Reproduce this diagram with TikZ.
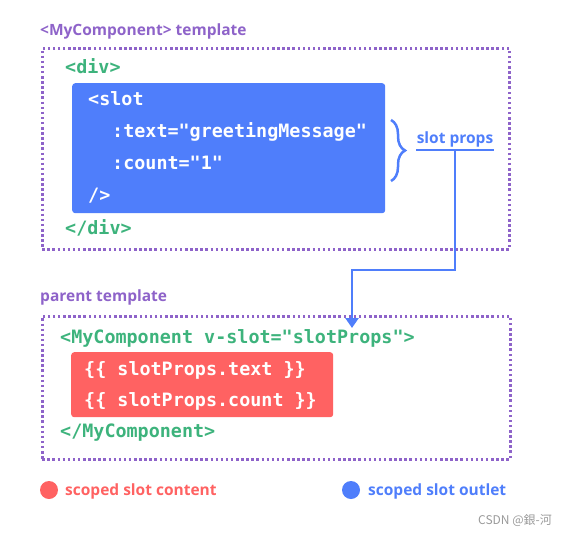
\documentclass[tikz,border=0pt]{standalone}
\usepackage{fontspec}
\setsansfont{Open Sans}
\setmonofont{DejaVu Sans Mono}
\newfontfamily\cjkfont{Noto Sans CJK SC}
\usetikzlibrary{decorations.pathreplacing,arrows.meta}

\definecolor{vuepurple}{HTML}{8E63C9}
\definecolor{vuegreen}{HTML}{3DB37C}
\definecolor{outletblue}{HTML}{4F7EFB}
\definecolor{contentred}{HTML}{FF6262}
\definecolor{markgray}{HTML}{9A9A9A}

\tikzset{
  title/.style={anchor=base west, inner sep=0pt, text=vuepurple, font=\sffamily\bfseries\fontsize{15.5bp}{18bp}\selectfont},
  frame/.style={draw=vuepurple, line width=2.5bp, dash pattern=on 2.5bp off 2.6bp, anchor=north west, inner sep=0pt},
  fillbox/.style={anchor=north west, inner sep=0pt, rounded corners=3bp},
  code/.style={anchor=base west, inner sep=0pt, text=vuegreen, font=\ttfamily\bfseries\fontsize{18.4bp}{20bp}\selectfont},
  whitecode/.style={code, text=white},
  legend/.style={anchor=base west, inner sep=0pt, font=\sffamily\bfseries\fontsize{15.5bp}{18bp}\selectfont},
  dot/.style={circle, inner sep=0pt, minimum size=18bp},
  link/.style={draw=outletblue, line width=2.5bp}
}

\begin{document}
\begin{tikzpicture}
\useasboundingbox (0bp,0bp) rectangle (570bp,-536bp);

% child component
\node (tpltitle) at (40bp,-35bp)[title] {<MyComponent> template};
\node (tplbox) at (41bp,-47bp)[frame, minimum width=467bp, minimum height=201bp] {};
\node (divopen) at (65bp,-73bp)[code] {<div>};
\node (slotbox) at (72bp,-83bp)[fillbox, fill=outletblue, minimum width=313bp, minimum height=130bp] {};
\node (slotopen) at (88bp,-105bp)[whitecode] {<slot};
\node (textprop) at (112bp,-137bp)[whitecode] {:text="greetingMessage"};
\node (countprop) at (112bp,-169bp)[whitecode] {:count="1"};
\node (slotclose) at (88bp,-201bp)[whitecode] {/>};
\node (divclose) at (65bp,-234bp)[code] {</div>};

\draw[link, decorate, decoration={brace, amplitude=14bp}] (391bp,-120bp) -- (391bp,-181bp);
\node (props) at (455bp,-143bp)[legend, anchor=base, text=outletblue] {slot props};
\draw[link] (416bp,-150bp) -- (494bp,-150bp);
\coordinate (propsfoot) at (455bp,-150bp);

% parent component
\node (partitle) at (40bp,-301bp)[title] {parent template};
\node (parbox) at (41bp,-315bp)[frame, minimum width=468bp, minimum height=143bp] {};
\node (compopen) at (60bp,-343bp)[code] {<MyComponent v-slot="slotProps">};
\node (contentbox) at (71bp,-352bp)[fillbox, fill=contentred, minimum width=262bp, minimum height=65bp] {};
\node (usetext) at (84bp,-375bp)[whitecode] {\{\{ slotProps.text \}\}};
\node (usecount) at (84bp,-406bp)[whitecode] {\{\{ slotProps.count \}\}};
\node (compclose) at (60bp,-437bp)[code] {</MyComponent>};

\coordinate (bend) at (352bp,-270bp);
\coordinate (tip) at (352bp,-328bp);
\draw[link, -{Triangle[length=10bp, width=13bp]}] (propsfoot) |- (bend) -- (tip);

% legend
\node (reddot) at (49bp,-490bp)[dot, fill=contentred] {};
\node (redtext) at (65bp,-495bp)[legend, text=contentred] {scoped slot content};
\node (bluedot) at (351bp,-490bp)[dot, fill=outletblue] {};
\node (bluetext) at (368bp,-495bp)[legend, text=outletblue] {scoped slot outlet};

\node (mark) at (478bp,-524bp)[anchor=base west, inner sep=0pt, text=markgray, font=\cjkfont\fontsize{12bp}{14bp}\selectfont] {CSDN @銀-河};
\end{tikzpicture}
\end{document}
